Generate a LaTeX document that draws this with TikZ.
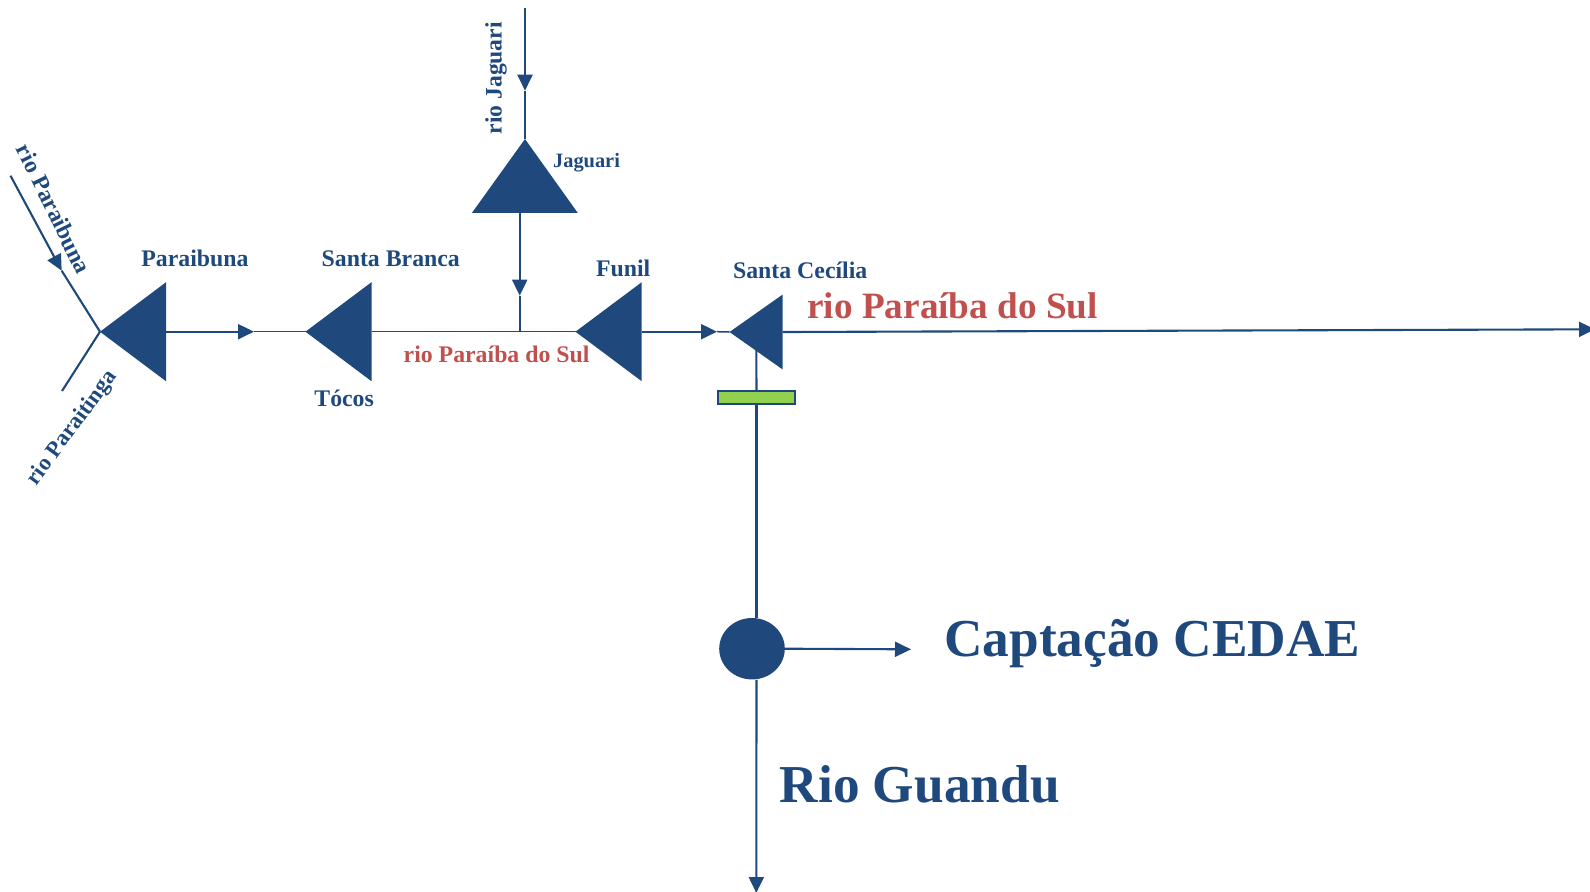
\documentclass[tikz,border=0pt]{standalone}
\usepackage{fontspec}
\setmainfont{Liberation Serif}
\usetikzlibrary{arrows.meta}
\usetikzlibrary{shapes.geometric}
\definecolor{riverblue}{HTML}{1F497D}
\definecolor{riverred}{HTML}{C0504D}
\definecolor{gategreen}{HTML}{92D050}
\tikzset{>={Triangle[length=8pt,width=7.5pt]}}
\tikzset{
	flow/.style={color=riverblue,line width=1.05pt},
	thinflow/.style={color=riverblue,line width=0.75pt},
	damname/.style={color=riverblue,font=\bfseries\fontsize{11.9}{12}\selectfont,inner sep=0pt,anchor=base west},
	slantname/.style={damname,font=\bfseries\fontsize{11.4}{12}\selectfont},
	rivername/.style={damname,color=riverred},
	bigname/.style={damname,font=\bfseries\fontsize{26.65}{27}\selectfont},
}

\begin{document}
\begin{tikzpicture}[x=0.5pt,y=-0.5pt]
	\clip[use as bounding box] (0,0) rectangle (1590,891);

	% dams: name / tip x / base x / half height / y
	\foreach \dam/\tip/\base/\half/\y in {paraibuna/100/166/49.5/331.7,branca/305.5/371.5/49.5/331.7,funil/575.5/641.7/49.5/331.7,cecilia/729.5/782.7/37.5/332} {
		\coordinate (\dam-tip) at (\tip,\y);
		\coordinate (\dam-base) at (\base,\y);
		\fill[riverblue] (\tip,\y) -- (\base,\y-\half) -- (\base,\y+\half) -- cycle;
	}
	\coordinate (jaguari-tip) at (525,139);
	\coordinate (jaguari-base) at (519.7,212.8);
	\fill[riverblue] (525,139) -- (577.7,212.8) -- (472,212.8) -- cycle;

	% free ends
	\coordinate (paraibuna-src) at (10.5,175.7);
	\coordinate (paraibuna-arr) at (61.7,270.7);
	\coordinate (paraitinga-src) at (62,391);
	\coordinate (jaguari-src) at (525,8);
	\coordinate (jaguari-arr) at (525,90.7);
	\coordinate (jaguari-in) at (519.7,295.7);
	\coordinate (jaguari-join) at (519.7,331.7);
	\coordinate (paraibuna-out) at (254,331.7);
	\coordinate (funil-out) at (717,331.7);
	\coordinate (sul-end) at (1595,329.3);
	\coordinate (cecilia-stem) at (756.3,350);
	\coordinate (guandu-end) at (756.3,893);
	\coordinate (intake-end) at (911,649.3);

	\node[draw=riverblue,fill=gategreen,line width=0.9pt,minimum width=38.8pt,minimum height=6.4pt,inner sep=0pt] (gate) at (756.5,397.7) {};
	\node[ellipse,fill=riverblue,minimum width=32.8pt,minimum height=30.7pt,inner sep=0pt] (intake) at (752,648.7) {};

	% rivers
	\draw[flow,->] (paraibuna-src) -- (paraibuna-arr);
	\draw[flow] (paraibuna-arr) -- (paraibuna-tip);
	\draw[flow] (paraitinga-src) -- (paraibuna-tip);
	\draw[flow,->] (paraibuna-base) -- (paraibuna-out);
	\draw[thinflow] (paraibuna-out) -- (branca-tip);
	\draw[thinflow] (branca-base) -- (funil-tip);
	\draw[flow,->] (jaguari-src) -- (jaguari-arr);
	\draw[flow] (jaguari-arr) -- (jaguari-tip);
	\draw[flow,->] (jaguari-base) -- (jaguari-in);
	\draw[flow] (jaguari-in) -- (jaguari-join);
	\draw[flow,->] (funil-base) -- (funil-out);
	\draw[thinflow] (funil-out) -- (cecilia-tip);
	\draw[flow,->] (cecilia-base) -- (sul-end);
	\draw[flow] (cecilia-stem) -- (gate.north);
	\draw[flow] (gate.south) -- (gate.south |- intake.north);
	\draw[flow,->] (gate.south |- intake.south) -- (guandu-end);
	\draw[flow,->] (intake.east) -- (intake-end);

	% names
	\node[damname] (name-paraibuna) at (141,266.7) {Paraibuna};
	\node[damname] (name-branca) at (321.3,266.7) {Santa Branca};
	\node[damname] (name-tocos) at (314,406.7) {Tócos};
	\node[damname,font=\bfseries\fontsize{10.2}{11}\selectfont] (name-jaguari) at (552.7,167.7) {Jaguari};
	\node[damname] (name-funil) at (595.7,276.7) {Funil};
	\node[damname] (name-cecilia) at (732.7,278.3) {Santa Cecília};
	\node[rivername] (sul-small) at (403.3,362.3) {rio Paraíba do Sul};
	\node[rivername,font=\bfseries\fontsize{18.6}{19}\selectfont] (sul-big) at (807,318) {rio Paraíba do Sul};
	\node[damname,rotate=90,font=\bfseries\fontsize{11.8}{12}\selectfont] (rio-jaguari) at (501.5,134.7) {rio Jaguari};
	\node[slantname,rotate=-64,font=\bfseries\fontsize{11.8}{12}\selectfont] (rio-paraibuna) at (15.7,148.5) {rio Paraibuna};
	\node[slantname,rotate=53.7] (rio-paraitinga) at (36.5,486.5) {rio Paraitinga};
	\node[bigname] (captacao) at (944,656) {Captação CEDAE};
	\node[bigname] (guandu) at (779.3,802) {Rio Guandu};
\end{tikzpicture}
\end{document}
